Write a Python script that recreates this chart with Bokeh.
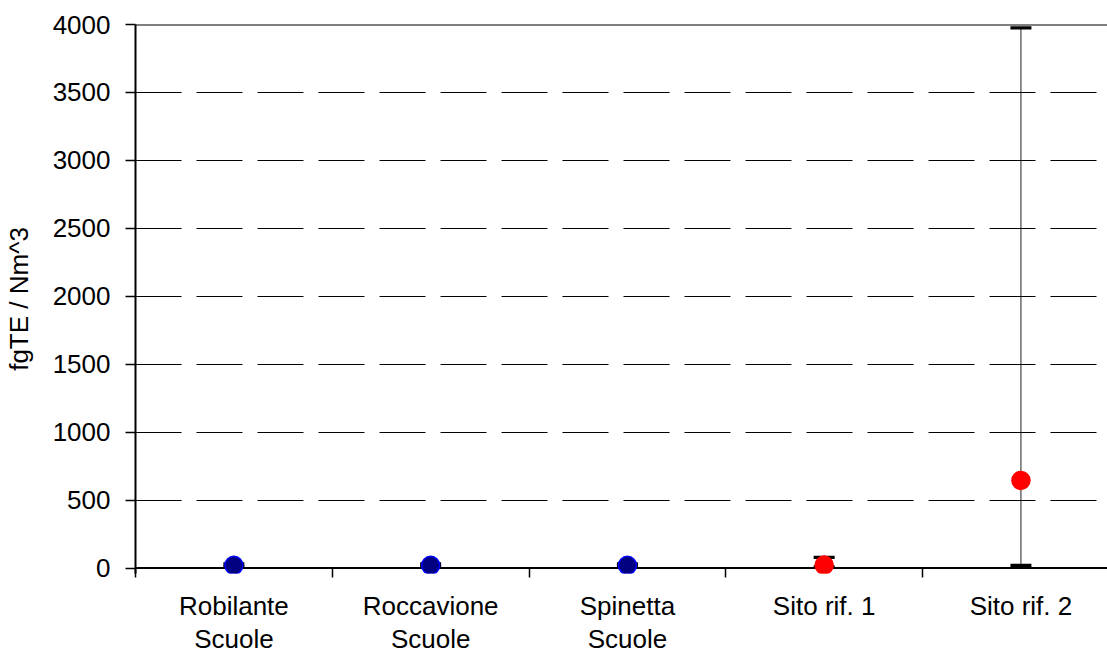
from bokeh.plotting import figure
from bokeh.models import Range1d, FixedTicker, Span
from bokeh.embed import file_html
from bokeh.resources import INLINE

# ---- data ----
sites = ["Robilante\nScuole", "Roccavione\nScuole", "Spinetta\nScuole", "Sito rif. 1", "Sito rif. 2"]
means = [20, 20, 20, 22, 645]
upper = [30, 30, 30, 78, 3975]
lower = [10, 10, 10, 8, 20]
fill_colors = ["#000080", "#000080", "#000080", "#FF0000", "#FF0000"]
line_colors = ["#0000FF", "#0000FF", "#0000FF", "#FF0000", "#FF0000"]
y_ticks = [0, 500, 1000, 1500, 2000, 2500, 3000, 3500, 4000]
y_label = "fgTE / Nm^3"

FONT = "Liberation Sans"

xpos = [i + 0.5 for i in range(len(sites))]
bounds = [i for i in range(len(sites) + 1)]

p = figure(width=1107, height=657,
           x_range=Range1d(0, 4.94), y_range=Range1d(-40, 4000),
           output_backend="svg", toolbar_location=None,
           min_border_left=135, min_border_right=0,
           min_border_top=24, min_border_bottom=84)
p.outline_line_color = None
p.background_fill_color = "white"
p.border_fill_color = "white"

# x axis: labels at centers, tick marks at category boundaries
xa = p.xaxis[0]
xa.ticker = FixedTicker(ticks=xpos, minor_ticks=bounds)
xa.major_label_overrides = {x: s for x, s in zip(xpos, sites)}
xa.major_tick_in = 0
xa.major_tick_out = 0
xa.minor_tick_in = 5
xa.minor_tick_out = 4
xa.minor_tick_line_color = "black"
xa.minor_tick_line_width = 1.5
xa.axis_line_color = None
xa.major_label_text_font = FONT
xa.major_label_text_font_size = "26px"
xa.major_label_text_color = "black"
xa.major_label_text_line_height = 1.1
xa.major_label_standoff = 13

# y axis
ya = p.yaxis[0]
ya.ticker = FixedTicker(ticks=y_ticks)
ya.major_tick_in = 0
ya.major_tick_out = 10
ya.minor_tick_line_color = None
ya.major_tick_line_width = 1.5
ya.axis_line_width = 2
ya.axis_line_color = "black"
ya.major_label_text_font = FONT
ya.major_label_text_font_size = "26px"
ya.major_label_text_color = "black"
ya.major_label_standoff = 15
ya.axis_label = y_label
ya.axis_label_text_font = FONT
ya.axis_label_text_font_size = "26px"
ya.axis_label_text_font_style = "normal"
ya.axis_label_text_color = "black"
ya.axis_label_standoff = 16

# grid
p.xgrid.visible = False
p.ygrid.ticker = FixedTicker(ticks=y_ticks[1:-1])
p.ygrid.grid_line_color = "black"
p.ygrid.grid_line_width = 1
p.ygrid.grid_line_dash = "46 15"

# axis line at 0 and top border
p.add_layout(Span(location=0, dimension="width", line_color="black", line_width=2, level="underlay"))
p.add_layout(Span(location=4000, dimension="width", line_color="black", line_width=2, level="underlay"))

# error bars
p.segment(x0=xpos, y0=lower, x1=xpos, y1=upper, line_color="#202020", line_width=1)
p.scatter(x=xpos, y=upper, marker="dash", size=21, line_width=3.3, line_color="black")
p.scatter(x=xpos, y=lower, marker="dash", size=21, line_width=3.3, line_color="black")

# points
p.scatter(x=xpos, y=means, size=18, fill_color=fill_colors, line_color=line_colors, line_width=1.5)

open("out.html", "w").write(file_html(p, INLINE))
